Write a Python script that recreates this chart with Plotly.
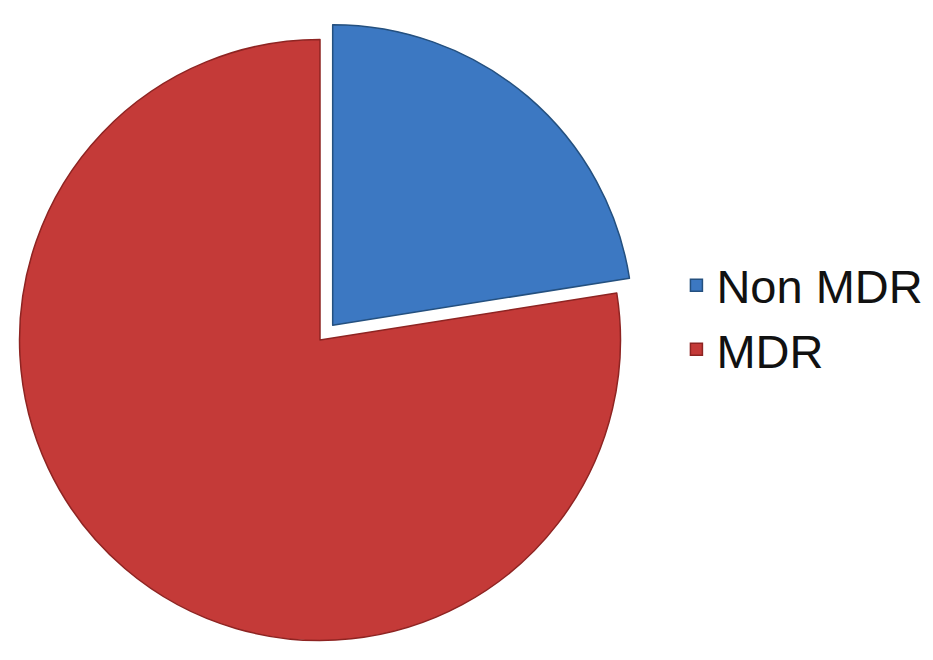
import plotly.graph_objects as go

labels = ["Non MDR", "MDR"]
values = [22.5, 77.5]
colors = ["#3C78C2", "#C43A38"]
line_colors = ["#24507F", "#8E2422"]
pulls = [0.065, 0]

W, H = 933, 660
T = 20
side = H - T

fig = go.Figure(go.Pie(
    labels=labels,
    values=values,
    sort=False,
    direction="clockwise",
    rotation=0,
    pull=pulls,
    marker=dict(colors=colors, line=dict(color=line_colors, width=1.5)),
    textinfo="none",
    hoverinfo="label+percent",
    domain=dict(x=[0, side / W], y=[0, 1]),
))

fig.update_layout(
    width=W, height=H,
    margin=dict(l=0, r=0, t=T, b=0),
    paper_bgcolor="white",
    plot_bgcolor="white",
    showlegend=True,
    legend=dict(
        x=0.725, y=0.535, xanchor="left", yanchor="middle",
        font=dict(family="Liberation Sans, Arial, sans-serif", size=47, color="#111111"),
        bgcolor="rgba(0,0,0,0)",
    ),
)

fig.write_html("out.html")
